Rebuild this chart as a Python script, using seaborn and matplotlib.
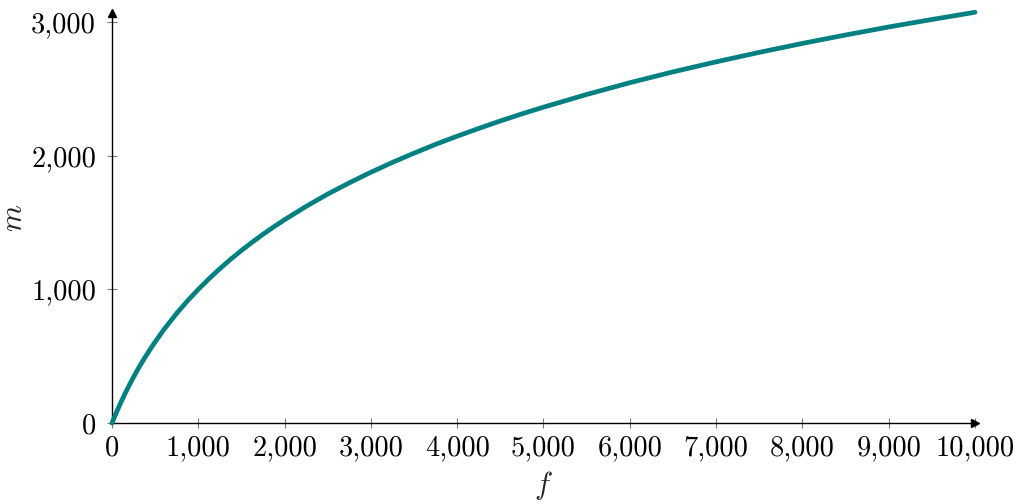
import matplotlib
matplotlib.use("Agg")
import matplotlib.pyplot as plt
import seaborn as sns
import pandas as pd

# Frequency (Hz) and corresponding mel values
freq = [0, 50, 100, 150, 200, 250, 300, 350, 400, 450, 500, 600, 750, 875,
        1000, 1125, 1250, 1375, 1500, 1625, 1750, 1875, 2000, 2250, 2500,
        2750, 3000, 3250, 3500, 3750, 4000, 4250, 4500, 4750, 5000, 5500,
        6000, 6500, 7000, 7500, 8000, 8500, 9000, 9500, 10000]
mel = [0, 78, 150, 219, 283, 344, 402, 457, 509, 559, 607, 698, 821, 914,
       1000, 1080, 1155, 1225, 1291, 1353, 1412, 1468, 1521, 1621, 1713,
       1797, 1876, 1950, 2019, 2085, 2146, 2204, 2260, 2313, 2363, 2458,
       2546, 2627, 2702, 2773, 2840, 2903, 2963, 3019, 3073]

xticks = [0, 1000, 2000, 3000, 4000, 5000, 6000, 7000, 8000, 9000, 10000]
xticklabels = ["0", "1,000", "2,000", "3,000", "4,000", "5,000", "6,000",
               "7,000", "8,000", "9,000", "10,000"]
yticks = [0, 1000, 2000, 3000]
yticklabels = ["0", "1,000", "2,000", "3,000"]

sns.set_theme(style="white")
plt.rcParams["font.family"] = ["cmr10", "DejaVu Serif"]
plt.rcParams["mathtext.fontset"] = "cm"
plt.rcParams["axes.unicode_minus"] = False

df = pd.DataFrame({"f": freq, "m": mel})

fig = plt.figure(figsize=(10.22, 5.04), dpi=100)
ax = fig.add_axes([0.1096, 0.1607, 0.8444, 0.8115])

sns.lineplot(data=df, x="f", y="m", ax=ax, color="#008080", linewidth=3.4,
             clip_on=False, zorder=3)

ax.set_xlim(0, 10000)
ax.set_ylim(0, 3060)

for side in ("top", "right"):
    ax.spines[side].set_visible(False)
for side in ("left", "bottom"):
    ax.spines[side].set_color("black")
    ax.spines[side].set_linewidth(1.0)

# arrow heads on the axes
ax.plot(1, 0, marker=">", color="black", markersize=6,
        transform=ax.get_yaxis_transform(), clip_on=False)
ax.plot(0, 1.003, marker="^", color="black", markersize=6,
        transform=ax.get_xaxis_transform(), clip_on=False)

ax.set_xticks(xticks)
ax.set_xticklabels(xticklabels)
ax.set_yticks(yticks)
ax.set_yticklabels(yticklabels)
ax.tick_params(axis="both", direction="inout", length=7, width=0.8,
               color="#777777", labelsize=20.5, labelcolor="black",
               bottom=True, left=True)
ax.tick_params(axis="x", pad=5)
ax.tick_params(axis="y", pad=8)

ax.set_xlabel("$f$", fontsize=22, labelpad=6)
ax.set_ylabel("$m$", fontsize=22, labelpad=2)

fig.savefig("out.png", dpi=100)
